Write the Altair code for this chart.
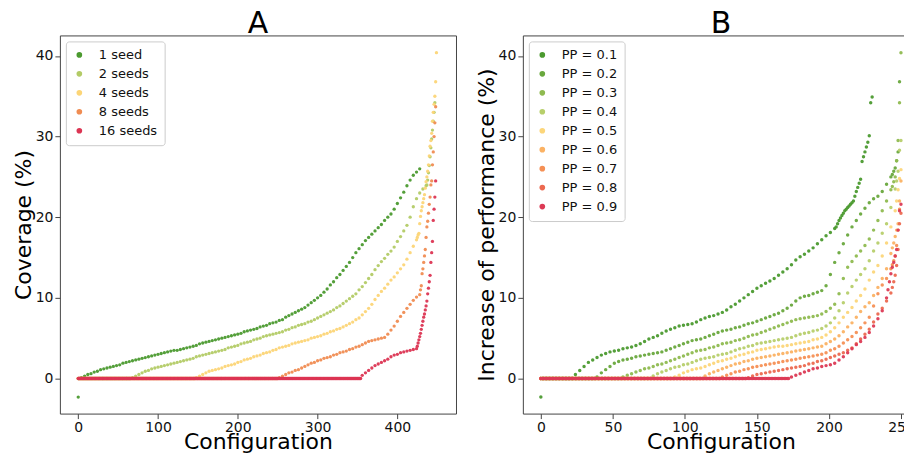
import altair as alt
import pandas as pd

# ---------------- Panel A: coverage per number of seeds ----------------
A_NAMES = ["1 seed", "2 seeds", "4 seeds", "8 seeds", "16 seeds"]
A_COLORS = ["#4b9a2f", "#b3cb66", "#fcd577", "#f08c52", "#dc3553"]

seed1 = [-2.3, 0.1, 0.3, 0.5, 0.6, 0.8, 0.9, 1.1, 1.2, 1.3,
         1.4, 1.5, 1.6, 1.7, 1.9, 2.0, 2.1, 2.2, 2.3, 2.4,
         2.5, 2.6, 2.7, 2.8, 2.9, 3.0, 3.1, 3.2, 3.3, 3.4,
         3.5, 3.5, 3.6, 3.7, 3.8, 3.9, 4.0, 4.1, 4.3, 4.4,
         4.5, 4.6, 4.7, 4.8, 4.9, 5.0, 5.1, 5.2, 5.3, 5.4,
         5.5, 5.6, 5.8, 5.9, 6.0, 6.1, 6.2, 6.4, 6.5, 6.6,
         6.8, 6.9, 7.0, 7.2, 7.3, 7.6, 7.8, 8.0, 8.2, 8.4,
         8.6, 8.8, 9.1, 9.4, 9.7, 10.0, 10.3, 10.7, 11.1, 11.6,
         12.0, 12.5, 12.9, 13.4, 13.9, 14.4, 15.0, 15.6, 16.1, 16.6,
         17.1, 17.5, 17.9, 18.3, 18.7, 19.1, 19.6, 20.0, 20.4, 21.0,
         21.7, 22.4, 23.1, 23.9, 24.6, 25.2, 25.6, 26.0]

seed2_zero = [0.0] * 66
seed2 = [0.1, 0.3, 0.5, 0.7, 0.9, 1.0, 1.2, 1.3, 1.4, 1.5,
         1.6, 1.7, 1.8, 1.9, 2.0, 2.1, 2.2, 2.3, 2.4, 2.5,
         2.7, 2.8, 2.9, 3.0, 3.1, 3.2, 3.3, 3.4, 3.5, 3.6,
         3.8, 3.9, 4.0, 4.1, 4.3, 4.4, 4.5, 4.6, 4.8, 4.9,
         5.0, 5.2, 5.3, 5.4, 5.5, 5.6, 5.7, 5.8, 6.0, 6.1,
         6.3, 6.4, 6.6, 6.7, 6.8, 7.0, 7.1, 7.3, 7.5, 7.7,
         7.9, 8.1, 8.3, 8.5, 8.8, 9.0, 9.3, 9.6, 9.9, 10.2,
         10.5, 11.0, 11.4, 11.9, 12.4, 12.9, 13.5, 14.0, 14.5, 14.9,
         15.4, 15.8, 16.3, 17.0, 17.6, 18.3, 19.0, 20.0, 21.3, 22.3,
         23.0, 23.5, 23.9]
seed2_tail = [24.0, 24.6, 25.5, 26.4, 27.5, 28.6, 29.7, 30.8, 31.9, 33.0, 34.2]

seed4_zero = [0.0] * 147
seed4 = [0.1, 0.3, 0.5, 0.7, 0.9, 1.0, 1.1, 1.2, 1.3, 1.5,
         1.6, 1.7, 1.8, 2.0, 2.1, 2.3, 2.4, 2.5, 2.7, 2.8,
         2.9, 3.1, 3.2, 3.3, 3.5, 3.6, 3.8, 3.9, 4.0, 4.1,
         4.3, 4.4, 4.5, 4.6, 4.7, 4.8, 5.0, 5.1, 5.2, 5.3,
         5.5, 5.6, 5.8, 5.9, 6.1, 6.2, 6.4, 6.6, 6.8, 7.0,
         7.3, 7.5, 7.9, 8.3, 8.7, 9.2, 9.8, 10.3, 10.8, 11.2,
         11.7, 12.2, 12.6, 13.1, 13.6, 14.1, 14.8, 15.6, 16.4, 17.2]
seed4_tail = [17.5, 17.8, 18.0, 19.2, 20.1, 20.8, 21.3, 21.8, 22.3, 22.8,
              23.6, 24.4, 25.0, 25.7, 26.5, 27.6, 28.8, 29.5, 30.4, 31.9,
              33.0, 34.0, 35.0, 36.8, 40.4]

seed8_zero = [0.0] * 251
seed8 = [0.1, 0.3, 0.5, 0.7, 0.8, 1.0, 1.1, 1.3, 1.5, 1.7,
         1.9, 2.0, 2.2, 2.3, 2.5, 2.6, 2.7, 2.9, 3.0, 3.2,
         3.3, 3.4, 3.6, 3.7, 3.9, 4.0, 4.2, 4.4, 4.6, 4.7,
         4.8, 4.9, 5.0, 5.1, 5.5, 6.0, 6.5, 7.1, 7.7, 8.2,
         8.7, 9.2, 9.7, 10.1, 10.4]
seed8_tail = [11.0, 11.5, 13.0, 13.6, 14.4, 15.2, 16.0, 17.5, 18.8, 19.5,
              20.5, 21.6, 22.5, 24.0, 24.5, 26.5, 28.1, 30.0, 31.7, 33.7]

seed16_zero = [0.0] * 355
seed16 = [0.4, 0.7, 1.0, 1.3, 1.6, 1.8, 2.0, 2.2, 2.4, 2.7,
          2.9, 3.0, 3.2, 3.3, 3.4, 3.5, 3.6, 3.7]
seed16_tail = [4.0, 4.4, 4.8, 5.2, 5.6, 6.1, 6.6, 7.1, 7.6, 8.0,
               8.5, 9.0, 9.6, 10.5, 11.2, 12.0, 12.8, 14.4, 15.6, 17.0,
               19.6, 21.0, 22.5, 24.5]

# (first configuration, configuration step, values)
SERIES_A = [
    ("1 seed", [(0, 4, seed1)]),
    ("2 seeds", [(0, 1, seed2_zero), (68, 4, seed2), (437, 1, seed2_tail)]),
    ("4 seeds", [(0, 1, seed4_zero), (148, 4, seed4), (425, 1, seed4_tail)]),
    ("8 seeds", [(0, 1, seed8_zero), (252, 4, seed8), (429, 1, seed8_tail)]),
    ("16 seeds", [(0, 1, seed16_zero), (356, 4, seed16), (425, 1, seed16_tail)]),
]

# ---------------- Panel B: increase of performance per PP ----------------
B_NAMES = ["PP = 0.1", "PP = 0.2", "PP = 0.3", "PP = 0.4", "PP = 0.5",
           "PP = 0.6", "PP = 0.7", "PP = 0.8", "PP = 0.9"]
B_COLORS = ["#4b9a2f", "#69a83d", "#8fba50", "#b7cf6b", "#fcd67a",
            "#fbb264", "#f59055", "#ec6950", "#dc3a55"]

pp1_first = [-2.3]
pp1_zero = [0.0] * 22
pp1 = [0.5, 1.0, 1.5, 2.0, 2.3, 2.6, 2.9, 3.1, 3.3, 3.4,
       3.5, 3.7, 3.8, 3.9, 4.1, 4.3, 4.6, 4.9, 5.1, 5.3,
       5.6, 5.9, 6.1, 6.3, 6.5, 6.6, 6.7, 6.8, 7.0, 7.3,
       7.5, 7.7, 7.8, 8.0, 8.2, 8.5, 8.9, 9.2, 9.6, 10.0,
       10.4, 10.8, 11.2, 11.5, 11.8, 12.1, 12.4, 12.8, 13.2, 13.6,
       14.1, 14.7, 15.1, 15.4, 15.8, 16.2, 16.7, 17.2, 17.7, 18.1,
       18.6]
pp1_tail = [18.8, 19.2, 19.6, 19.9, 20.2, 20.5, 20.8, 21.0, 21.2, 21.4,
            21.6, 21.8, 22.0, 22.6, 23.2, 23.7, 24.2, 24.7, 26.9, 27.5,
            28.1, 28.7, 29.3, 30.1, 34.2, 34.9]

pp2_zero = [0.0] * 38
pp2 = [0.2, 0.7, 1.1, 1.5, 1.9, 2.1, 2.3, 2.4, 2.5, 2.7,
       2.8, 2.9, 3.0, 3.1, 3.2, 3.3, 3.5, 3.7, 3.9, 4.1,
       4.3, 4.5, 4.7, 4.8, 4.9, 5.1, 5.3, 5.5, 5.7, 5.9,
       6.0, 6.1, 6.3, 6.4, 6.6, 6.8, 6.9, 7.1, 7.3, 7.5,
       7.7, 7.9, 8.1, 8.4, 8.7, 9.1, 9.6, 10.0, 10.2, 10.3,
       10.5, 10.7, 10.9, 11.5, 12.9, 14.4, 15.6, 16.7, 17.8, 18.8,
       19.6, 20.4, 21.1, 21.8, 22.3, 22.6, 23.2, 24.1, 25.0]
pp2_tail = [25.3, 25.7, 26.1, 27.0, 28.1, 36.8]

pp3_zero = [0.0] * 56
pp3 = [0.2, 0.4, 0.6, 0.8, 1.0, 1.2, 1.3, 1.5, 1.7, 1.8,
       2.0, 2.2, 2.4, 2.6, 2.8, 3.0, 3.2, 3.4, 3.5, 3.6,
       3.8, 3.9, 4.1, 4.3, 4.4, 4.5, 4.7, 4.8, 5.0, 5.2,
       5.4, 5.5, 5.7, 5.9, 6.1, 6.3, 6.5, 6.7, 6.9, 7.1,
       7.3, 7.4, 7.5, 7.6, 7.7, 7.8, 8.0, 8.3, 8.7, 9.2,
       10.5, 12.4, 13.8, 14.5, 15.2, 15.8, 16.5, 17.3, 18.4, 19.6,
       20.8, 22.0, 23.4]
pp3_tail = [23.8, 24.4, 25.0, 27.0, 29.5, 34.2, 40.4]

pp4_zero = [0.0] * 77
pp4 = [0.3, 0.6, 0.8, 1.0, 1.2, 1.4, 1.5, 1.7, 1.8, 2.0,
       2.2, 2.4, 2.5, 2.6, 2.7, 2.9, 3.0, 3.1, 3.3, 3.5,
       3.7, 3.8, 4.0, 4.1, 4.3, 4.4, 4.5, 4.6, 4.7, 4.8,
       4.9, 5.0, 5.1, 5.3, 5.5, 5.6, 5.7, 5.9, 6.0, 6.2,
       6.5, 6.9, 7.5, 8.4, 9.4, 10.6, 11.4, 12.2, 12.9, 13.6,
       14.6, 15.8, 16.8, 18.0, 19.2, 21.2, 23.5]
pp4_tail = [24.5, 25.7, 28.3, 29.5]

pp5_zero = [0.0] * 92
pp5 = [0.2, 0.4, 0.7, 0.9, 1.1, 1.2, 1.3, 1.5, 1.7, 1.9,
       2.1, 2.2, 2.4, 2.5, 2.7, 2.9, 3.0, 3.2, 3.3, 3.5,
       3.6, 3.7, 3.8, 3.9, 4.0, 4.0, 4.1, 4.2, 4.3, 4.4,
       4.5, 4.6, 4.8, 4.9, 5.1, 5.4, 5.8, 6.3, 6.9, 7.6,
       8.2, 8.8, 9.6, 10.3, 11.1, 12.2, 13.2, 14.0, 15.2, 16.8,
       18.8, 20.8]
pp5_tail = [22.0, 23.4, 24.8, 25.9]

pp6_zero = [0.0] * 113
pp6 = [0.3, 0.6, 0.8, 1.0, 1.2, 1.4, 1.6, 1.8, 1.9, 2.1,
       2.2, 2.4, 2.5, 2.6, 2.7, 2.8, 2.9, 3.0, 3.1, 3.2,
       3.3, 3.4, 3.5, 3.6, 3.7, 3.8, 3.9, 4.0, 4.3, 4.6,
       4.9, 5.3, 5.8, 6.4, 6.9, 7.6, 8.3, 8.9, 9.4, 10.3,
       11.3, 12.4, 13.6, 15.5]
pp6_tail = [16.2, 16.8, 17.6, 18.4, 19.2, 22.0, 24.5]

pp7_zero = [0.0] * 125
pp7 = [0.2, 0.4, 0.6, 0.8, 0.9, 1.1, 1.2, 1.4, 1.5, 1.6,
       1.7, 1.8, 1.9, 2.0, 2.1, 2.2, 2.3, 2.4, 2.5, 2.6,
       2.7, 2.8, 2.9, 3.0, 3.2, 3.5, 3.7, 4.0, 4.4, 4.8,
       5.2, 5.7, 6.3, 6.9, 7.6, 9.0, 10.5, 11.6, 12.4, 13.6]
pp7_tail = [14.1, 14.6, 15.2, 16.5, 18.4, 21.0]

pp8_zero = [0.0] * 143
pp8 = [0.1, 0.3, 0.5, 0.6, 0.7, 0.8, 0.9, 1.0, 1.1, 1.2,
       1.3, 1.4, 1.5, 1.6, 1.8, 1.9, 2.1, 2.2, 2.4, 2.6,
       2.8, 3.0, 3.2, 3.5, 3.8, 4.3, 4.9, 5.5, 6.1, 7.0,
       8.0, 8.7, 9.6, 10.6]
pp8_tail = [11.3, 12.0, 12.8, 14.0, 16.0, 19.2, 20.5]

pp9_zero = [0.0] * 173
pp9 = [0.2, 0.4, 0.6, 0.8, 1.0, 1.2, 1.3, 1.5, 1.6, 1.7,
       1.9, 2.3, 2.7, 3.2, 3.7, 4.2, 4.6, 5.1, 5.7, 6.5,
       7.4, 8.4, 10.0]
pp9_tail = [11.0, 12.0, 13.0, 13.8, 14.4, 15.2, 16.0, 18.4, 20.8, 21.6]

SERIES_B = [
    ("PP = 0.1", [(0, 1, pp1_first), (1, 1, pp1_zero), (24, 3, pp1), (205, 1, pp1_tail)]),
    ("PP = 0.2", [(0, 1, pp2_zero), (39, 3, pp2), (244, 1, pp2_tail)]),
    ("PP = 0.3", [(0, 1, pp3_zero), (57, 3, pp3), (244, 1, pp3_tail)]),
    ("PP = 0.4", [(0, 1, pp4_zero), (78, 3, pp4), (247, 1, pp4_tail)]),
    ("PP = 0.5", [(0, 1, pp5_zero), (93, 3, pp5), (247, 1, pp5_tail)]),
    ("PP = 0.6", [(0, 1, pp6_zero), (114, 3, pp6), (244, 1, pp6_tail)]),
    ("PP = 0.7", [(0, 1, pp7_zero), (126, 3, pp7), (244, 1, pp7_tail)]),
    ("PP = 0.8", [(0, 1, pp8_zero), (144, 3, pp8), (244, 1, pp8_tail)]),
    ("PP = 0.9", [(0, 1, pp9_zero), (174, 3, pp9), (241, 1, pp9_tail)]),
]


def make_df(series):
    rows = []
    k = 0
    for name, segments in series:
        for start, step, vals in segments:
            for i, v in enumerate(vals):
                rows.append({"config": start + i * step, "value": v,
                             "series": name, "order": k})
                k += 1
    return pd.DataFrame(rows)


FONT = "DejaVu Sans"
FRAME = "#444444"
PLOT_H = 379


def panel(df, names, colors, xdomain, xticks, ytitle, size, t):
    legend = alt.Legend(
        title=None, orient="top-left", offset=6, padding=7, rowPadding=5,
        labelFont=FONT, labelFontSize=13, labelColor="#111",
        labelOffset=13, symbolType="circle", symbolSize=32,
        symbolOpacity=1, symbolStrokeWidth=0,
        strokeColor="#cccccc", fillColor="white", cornerRadius=3,
    )
    return alt.Chart(df).mark_circle(size=size, opacity=0.95).encode(
        x=alt.X("config:Q",
                scale=alt.Scale(domain=xdomain, nice=False, zero=False),
                axis=alt.Axis(values=xticks, format="d", title="Configuration")),
        y=alt.Y("value:Q",
                scale=alt.Scale(domain=[-4.35, 42.54], nice=False, zero=False),
                axis=alt.Axis(values=[0, 10, 20, 30, 40], format="d", title=ytitle)),
        color=alt.Color("series:N",
                        scale=alt.Scale(domain=names, range=colors),
                        sort=names, legend=legend),
        order=alt.Order("order:Q"),
    ).properties(
        width=397, height=PLOT_H,
        title=alt.TitleParams(t, fontSize=30, font=FONT, fontWeight="normal",
                              anchor="middle", frame="group", offset=-4,
                              color="#000"),
    )


chart_a = panel(make_df(SERIES_A), A_NAMES, A_COLORS,
                [-23.0, 473.5], [0, 100, 200, 300, 400], "Coverage (%)", 11, "A")

# Panel B runs past the right edge of the figure (cut by the negative right padding)
chart_b = panel(make_df(SERIES_B), B_NAMES, B_COLORS,
                [-12.5, 262.5], [0, 50, 100, 150, 200, 250],
                "Increase of performance (%)", 12, "B")

chart = alt.hconcat(chart_a, chart_b, spacing=17).resolve_scale(
    color="independent"
).properties(
    padding={"left": 3, "top": 0, "right": -16, "bottom": 0}
).configure_view(
    stroke=FRAME, strokeWidth=1
).configure_axis(
    labelFont=FONT, labelFontSize=14, labelColor="#111",
    titleFont=FONT, titleFontSize=22, titleFontWeight="normal", titleColor="#000",
    tickSize=5, tickColor=FRAME, domain=False, grid=False,
    labelPadding=2, labelFlush=False,
).configure_axisX(titlePadding=-3.5).configure_axisY(titlePadding=0)

chart.save("out.html", embed_options={"renderer": "svg", "actions": False})
